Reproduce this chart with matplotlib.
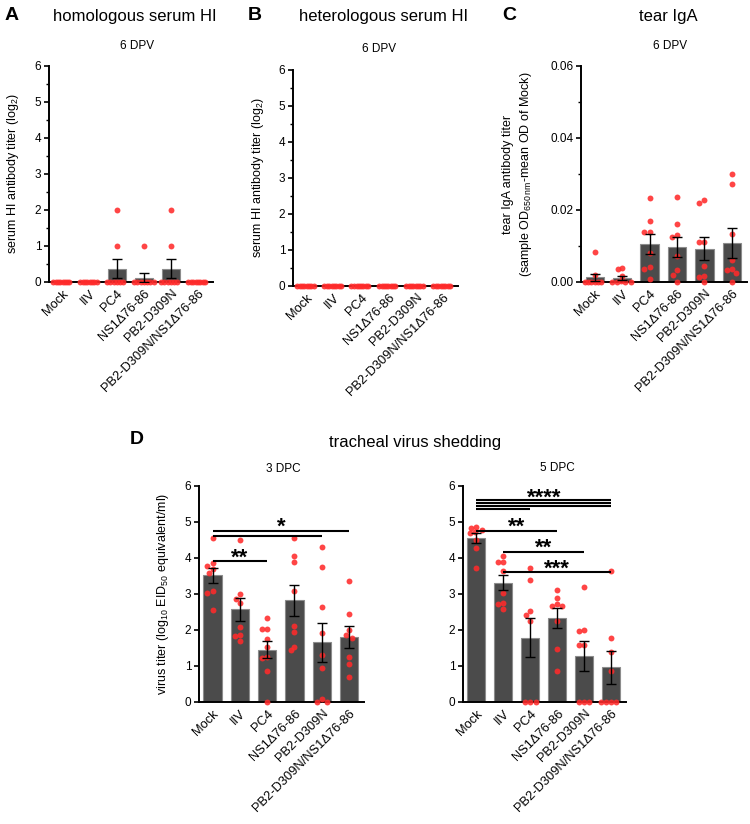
import numpy as np
import matplotlib
matplotlib.use('Agg')
import matplotlib.pyplot as plt

plt.rcParams['font.family'] = ['Liberation Sans', 'DejaVu Sans']
plt.rcParams['mathtext.fontset'] = 'custom'
plt.rcParams['mathtext.rm'] = 'Liberation Sans'
plt.rcParams['mathtext.it'] = 'Liberation Sans:italic'
plt.rcParams['mathtext.bf'] = 'Liberation Sans:bold'

# ---------------- data ----------------
groups = ['Mock', 'IIV', 'PC4', 'NS1Δ76-86', 'PB2-D309N', 'PB2-D309N/NS1Δ76-86']

homo_hi = [
    [0, 0, 0, 0, 0, 0, 0, 0],
    [0, 0, 0, 0, 0, 0, 0, 0],
    [2, 1, 0, 0, 0, 0, 0, 0],
    [1, 0, 0, 0, 0, 0, 0, 0],
    [2, 1, 0, 0, 0, 0, 0, 0],
    [0, 0, 0, 0, 0, 0, 0, 0],
]
hetero_hi = [
    [0, 0, 0, 0, 0, 0, 0, 0],
    [0, 0, 0, 0, 0, 0, 0, 0],
    [0, 0, 0, 0, 0, 0, 0, 0],
    [0, 0, 0, 0, 0, 0, 0, 0],
    [0, 0, 0, 0, 0, 0, 0, 0],
    [0, 0, 0, 0, 0, 0, 0, 0],
]
tear_iga = [
    [0.0083, 0.0020, 0, 0, 0, 0, 0, 0],
    [0.0038, 0.0035, 0.0018, 0.0004, 0, 0, 0, 0],
    [0.0233, 0.0170, 0.0140, 0.0138, 0.0080, 0.0043, 0.0036, 0.0009],
    [0.0237, 0.0161, 0.0131, 0.0124, 0.0071, 0.0032, 0.0020, 0.0],
    [0.0228, 0.0219, 0.0111, 0.0110, 0.0044, 0.0018, 0.0014, 0.0],
    [0.0300, 0.0272, 0.0134, 0.0060, 0.0037, 0.0034, 0.0025, 0.0],
]
dpc3 = [
    [4.56, 3.86, 3.78, 3.69, 3.57, 3.07, 3.04, 2.55],
    [4.50, 2.99, 2.87, 2.74, 2.09, 1.85, 1.84, 1.70],
    [2.32, 2.04, 2.04, 1.74, 1.54, 1.26, 1.21, 0.87, 0.0],
    [4.55, 4.06, 3.88, 3.09, 2.10, 1.94, 1.54, 1.44],
    [4.31, 3.74, 2.65, 1.91, 1.31, 0.95, 0.08, 0.0, 0.0],
    [3.37, 2.45, 1.99, 1.86, 1.79, 1.25, 1.05, 0.70],
]
dpc5 = [
    [4.86, 4.83, 4.78, 4.72, 4.69, 4.50, 4.27, 3.72],
    [4.05, 3.89, 3.88, 3.64, 3.04, 2.76, 2.71, 2.57],
    [3.72, 3.40, 2.52, 2.41, 2.26, 0.0, 0.0, 0.0],
    [3.12, 2.88, 2.71, 2.68, 2.66, 2.24, 1.46, 0.86],
    [3.19, 1.99, 1.98, 1.57, 1.57, 0.0, 0.0, 0.0],
    [3.65, 1.78, 1.39, 0.87, 0.0, 0.0, 0.0, 0.0],
]

# significance: (group_i, group_j, height)
sig_lines_3dpc = [(0, 5, 4.75), (0, 4, 4.62), (0, 2, 3.92)]
sig_text_3dpc = [('*', 0, 5, 5.07), ('**', 0, 2, 4.22)]
sig_lines_5dpc = [(0, 5, 5.60), (0, 5, 5.52), (0, 5, 5.45), (0, 2, 5.37),
                  (0, 3, 4.76), (1, 4, 4.16), (1, 5, 3.61)]
sig_text_5dpc = [('****', 0, 5, 5.89), ('**', 0, 3, 5.08),
                 ('**', 1, 4, 4.48), ('***', 1, 5, 3.91)]

# ---------------- style ----------------
W, H = 750, 824
BAR_FC = '#4b4b4b'
BAR_EC = '#8c8c8c'
DOT = '#ff2b2b'
XLIM = (-0.5, 5.55)
STAR_FS = 16

fig = plt.figure(figsize=(W / 100, H / 100), dpi=100)


def box(l, t, r, b):
    return [l / W, 1 - b / H, (r - l) / W, (b - t) / H]


def swarm(vals, w_px, h_px, ylim, d=5.2, max_half=0.36):
    px_x = w_px / (XLIM[1] - XLIM[0])
    px_y = h_px / (ylim[1] - ylim[0])
    placed = []
    offs = []
    step = d / 4
    cands = sorted([k * step for k in range(-60, 61)], key=lambda c: (abs(c), c))
    for v in vals:
        y = v * px_y
        for c in cands:
            if all(np.hypot(c - px, y - py) >= d for px, py in placed):
                break
        placed.append((c, y))
        offs.append(c)
    offs = np.array(offs)
    m = np.max(np.abs(offs)) if len(offs) else 0
    lim = max_half * px_x
    if m > lim:
        offs = offs * lim / m
    return offs / px_x


def panel(rect, data, ylim, yticks, minor, fmt, sig_lines=None, sig_text=None):
    ax = fig.add_axes(box(*rect))
    l, t, r, b = rect
    x = np.arange(len(groups))
    means = np.array([np.mean(d) for d in data])
    sems = np.array([np.std(d, ddof=1) / np.sqrt(len(d)) for d in data])
    ax.bar(x, means, width=0.67, color=BAR_FC, edgecolor=BAR_EC, linewidth=0.8, zorder=2)
    for i, d in enumerate(data):
        offs = swarm(d, r - l, b - t, ylim)
        ax.scatter(i + offs, d, s=18, color=DOT, alpha=0.88, linewidths=0,
                   zorder=5, clip_on=False)
        if sems[i] > 0:
            ax.errorbar(i, means[i], yerr=sems[i], color='black', capsize=3.6,
                        elinewidth=1.0, capthick=1.0, zorder=6, fmt='none')
    ax.set_xlim(*XLIM)
    ax.set_ylim(*ylim)
    ax.set_yticks(yticks)
    ax.set_yticklabels([fmt.format(v) for v in yticks])
    if minor is not None:
        ax.set_yticks(minor, minor=True)
    for s in ['top', 'right']:
        ax.spines[s].set_visible(False)
    for s in ['left', 'bottom']:
        ax.spines[s].set_linewidth(1.4)
        ax.spines[s].set_zorder(4)
    ax.tick_params(axis='y', which='major', length=3.5, width=1.2, labelsize=8.5, pad=2)
    ax.tick_params(axis='y', which='minor', length=2.2, width=1.0)
    ax.set_xticks(x)
    ax.set_xticklabels(groups, rotation=45, ha='right', va='top',
                       rotation_mode='anchor', fontsize=9.3)
    ax.tick_params(axis='x', length=0, pad=4)
    ax.patch.set_alpha(0)
    if sig_lines:
        for i, j, hgt in sig_lines:
            ax.plot([i, j], [hgt, hgt], color='black', lw=1.5, solid_capstyle='butt',
                    zorder=7, clip_on=False)
    if sig_text:
        for s, i, j, hgt in sig_text:
            ax.annotate(s, xy=((i + j) / 2, hgt), xytext=(0, -0.6 * STAR_FS),
                        textcoords='offset points', ha='center', va='baseline',
                        fontsize=STAR_FS, fontweight='bold', annotation_clip=False)
    return ax


# Panel A
panel((49, 66, 213, 282), homo_hi, (0, 6), [0, 1, 2, 3, 4, 5, 6],
      np.arange(0, 6.01, 0.5), '{:g}')
# Panel B
panel((293, 70, 458, 286), hetero_hi, (0, 6), [0, 1, 2, 3, 4, 5, 6],
      np.arange(0, 6.01, 0.5), '{:g}')
# Panel C
panel((581, 66, 747, 282), tear_iga, (0, 0.06), [0, 0.02, 0.04, 0.06],
      np.arange(0, 0.0601, 0.01), '{:.2f}')
# Panel D
panel((199, 486, 364, 702), dpc3, (0, 6), [0, 1, 2, 3, 4, 5, 6], None, '{:g}',
      sig_lines_3dpc, sig_text_3dpc)
panel((463, 486, 626, 702), dpc5, (0, 6), [0, 1, 2, 3, 4, 5, 6], None, '{:g}',
      sig_lines_5dpc, sig_text_5dpc)


def ftext(x, y, s, **kw):
    fig.text(x / W, 1 - y / H, s, **kw)


# panel letters
ftext(5, 16, 'A', fontsize=14, fontweight='bold', ha='left', va='center')
ftext(248, 16, 'B', fontsize=14, fontweight='bold', ha='left', va='center')
ftext(502, 16, 'C', fontsize=14, fontweight='bold', ha='left', va='center')
ftext(130, 440, 'D', fontsize=14, fontweight='bold', ha='left', va='center')

# titles
ftext(135, 17, 'homologous serum HI', fontsize=12, ha='center', va='center')
ftext(384, 17, 'heterologous serum HI', fontsize=12, ha='center', va='center')
ftext(668, 17, 'tear IgA', fontsize=12, ha='center', va='center')
ftext(137, 46, '6 DPV', fontsize=8.5, ha='center', va='center')
ftext(379, 49, '6 DPV', fontsize=8.5, ha='center', va='center')
ftext(670, 46, '6 DPV', fontsize=8.5, ha='center', va='center')
ftext(415, 442, 'tracheal virus shedding', fontsize=12, ha='center', va='center')
ftext(283, 469, '3 DPC', fontsize=8.5, ha='center', va='center')
ftext(557, 468, '5 DPC', fontsize=8.5, ha='center', va='center')

# y labels
ftext(13, 174, 'serum HI antibody titer (log$_2$)', fontsize=9, rotation=90,
      ha='center', va='center')
ftext(258, 178, 'serum HI antibody titer (log$_2$)', fontsize=9, rotation=90,
      ha='center', va='center')
ftext(518, 174, 'tear IgA antibody titer\n(sample OD$_{650\\,\\mathrm{nm}}$-mean OD of Mock)',
      fontsize=9, rotation=90, ha='center', va='center', multialignment='center',
      linespacing=1.3)
ftext(163, 594, 'virus titer (log$_{10}$ EID$_{50}$ equivalent/ml)', fontsize=9,
      rotation=90, ha='center', va='center')

fig.savefig('out.png', dpi=100)
